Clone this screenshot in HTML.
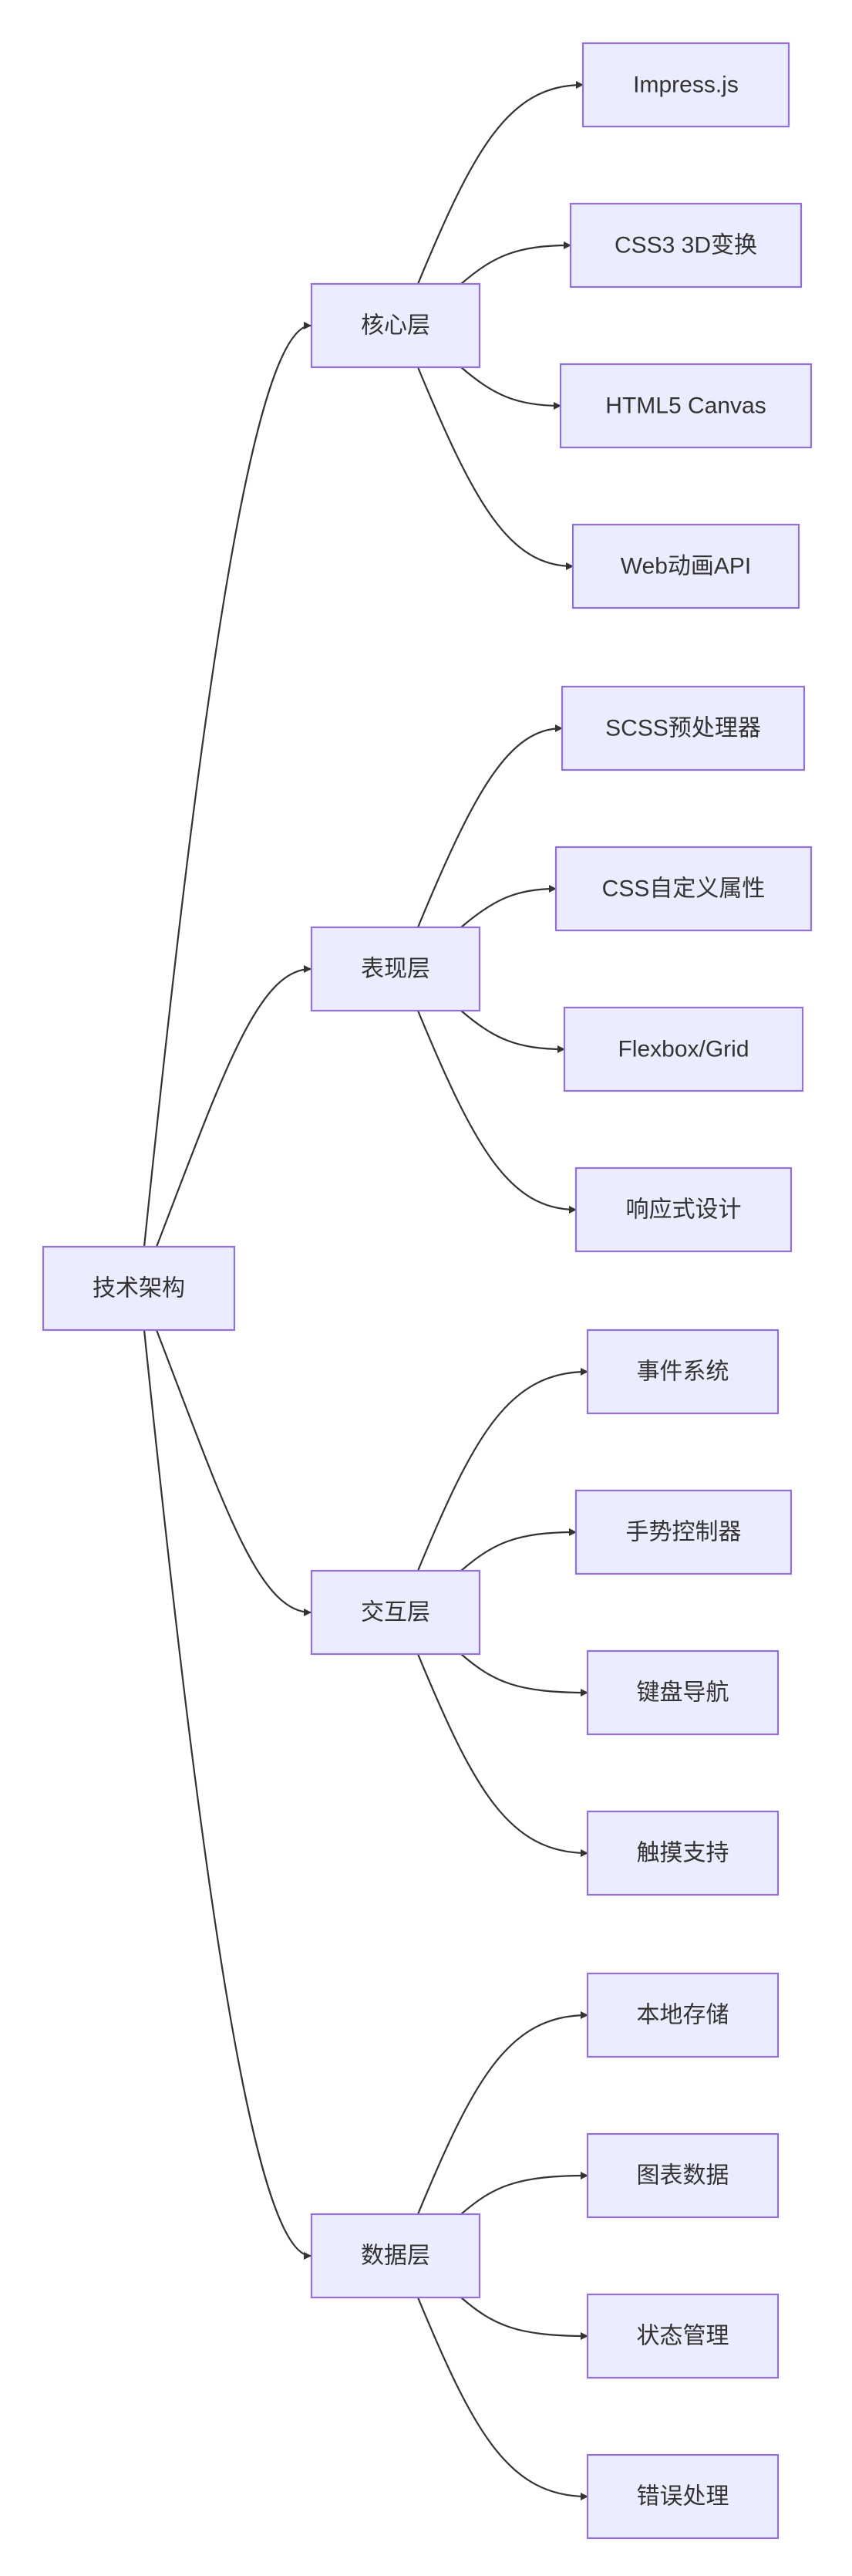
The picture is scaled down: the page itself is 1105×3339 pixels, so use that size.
<!DOCTYPE html>
<html><head><meta charset="utf-8"><style>
html,body{margin:0;padding:0;background:#fff;}
svg{display:block;}
text{font-family:"Liberation Sans","Noto Sans CJK SC",sans-serif;font-size:30px;fill:#333;text-anchor:middle;dominant-baseline:central;}
.n{fill:#ECECFF;stroke:#9370DB;stroke-width:2.2;}
.e{fill:none;stroke:#333;stroke-width:2.2;}
</style></head><body>
<svg width="1105" height="3339" viewBox="0 0 1105 3339" xmlns="http://www.w3.org/2000/svg">
<defs><marker id="a" viewBox="0 0 10 10" refX="9" refY="5" markerWidth="10" markerHeight="10" markerUnits="userSpaceOnUse" orient="auto"><path d="M0,0 L10,5 L0,10 z" fill="#333"/></marker></defs>
<g id="edges"></g>
<g id="nodes"></g>
</svg>
<script>
var ns="http://www.w3.org/2000/svg";
var E=document.getElementById("edges"),N=document.getElementById("nodes");
function path(d){var p=document.createElementNS(ns,"path");p.setAttribute("d",d);p.setAttribute("class","e");p.setAttribute("marker-end","url(#a)");E.appendChild(p);}
function node(x1,x2,cy,t){var r=document.createElementNS(ns,"rect");r.setAttribute("x",x1);r.setAttribute("y",cy-54);r.setAttribute("width",x2-x1);r.setAttribute("height",108);r.setAttribute("class","n");N.appendChild(r);var tx=document.createElementNS(ns,"text");tx.setAttribute("x",(x1+x2)/2);tx.setAttribute("y",cy);tx.textContent=t;N.appendChild(tx);}
var mc=1670;
node(56,304,mc,"技术架构");
var layers=[["核心层",[["Impress.js",756,1023],["CSS3 3D变换",740,1039],["HTML5 Canvas",727,1052],["Web动画API",743,1036]]],
["表现层",[["SCSS预处理器",729,1043],["CSS自定义属性",721,1052],["Flexbox/Grid",732,1041],["响应式设计",747,1026]]],
["交互层",[["事件系统",762,1009],["手势控制器",747,1026],["键盘导航",762,1009],["触摸支持",762,1009]]],
["数据层",[["本地存储",762,1009],["图表数据",762,1009],["状态管理",762,1009],["错误处理",762,1009]]]];
var offs=[-312,-104,104,312];
layers.forEach(function(L,i){
 var c=422+834*i;
 node(404,622,c,L[0]);
 // main -> layer
 if(i==0) path("M187,1616 C255,960 325,"+c+" 403,"+c);
 if(i==1) path("M203,1616 C290,1390 335,"+c+" 403,"+c);
 if(i==2) path("M203,1724 C290,1950 335,"+c+" 403,"+c);
 if(i==3) path("M187,1724 C255,2380 325,"+c+" 403,"+c);
 L[1].forEach(function(f,j){
  var cy=c+offs[j];
  node(f[1],f[2],cy,f[0]);
  var x=f[1];
  if(j==0) path("M542,"+(c-54)+" C615,"+(c-230)+" 660,"+cy+" "+x+","+cy);
  if(j==1) path("M598,"+(c-54)+" C640,"+(c-90)+" 670,"+cy+" "+x+","+cy);
  if(j==2) path("M598,"+(c+54)+" C640,"+(c+90)+" 670,"+cy+" "+x+","+cy);
  if(j==3) path("M542,"+(c+54)+" C615,"+(c+230)+" 660,"+cy+" "+x+","+cy);
 });
});
</script>
</body></html>
